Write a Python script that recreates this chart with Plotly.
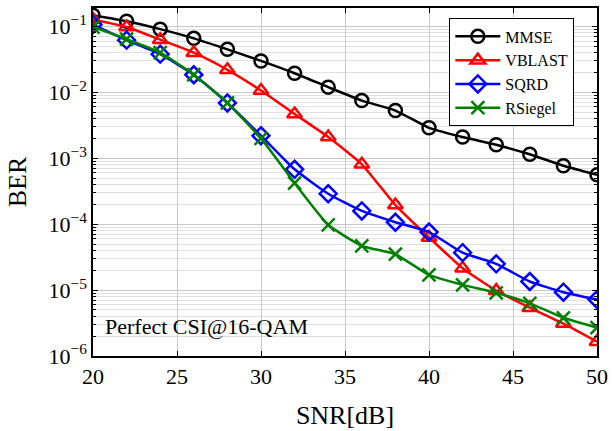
import numpy as np
import plotly.graph_objects as go

snr = [20, 22, 24, 26, 28, 30, 32, 34, 36, 38, 40, 42, 44, 46, 48, 50]

mmse = [0.148, 0.12, 0.091, 0.066, 0.045, 0.030, 0.0195, 0.012, 0.0075, 0.0053,
        0.0029, 0.0021, 0.0016, 0.00115, 0.00077, 0.00056]
vblast = [0.128, 0.098, 0.063, 0.040, 0.022, 0.0107, 0.0047, 0.0021, 0.00081, 0.000195,
          6.3e-5, 2.15e-5, 9.8e-6, 5.4e-6, 3.1e-6, 1.65e-6]
sqrd = [0.107, 0.062, 0.038, 0.0185, 0.0069, 0.0022, 0.00068, 0.00029, 0.000159, 0.000107,
        7.6e-5, 3.7e-5, 2.5e-5, 1.35e-5, 9.3e-6, 7.2e-6]
rsiegel = [0.098, 0.064, 0.040, 0.0185, 0.0069, 0.0020, 0.00042, 9.8e-5, 4.7e-5, 3.5e-5,
           1.7e-5, 1.2e-5, 9.1e-6, 6.3e-6, 3.8e-6, 2.7e-6]

series = [
    ("MMSE", mmse, "black", "circle-open"),
    ("VBLAST", vblast, "red", "triangle-up-open"),
    ("SQRD", sqrd, "blue", "diamond-open"),
    ("RSiegel", rsiegel, "green", "x-thin-open"),
]

font = "Liberation Serif, Times New Roman, serif"

fig = go.Figure()
for name, vals, col, sym in series:
    fig.add_trace(go.Scatter(
        x=snr, y=vals, name=name, mode="lines+markers",
        line=dict(color=col, width=2.5, shape="spline", smoothing=0.5),
        marker=dict(symbol=sym, size=13, color=col, line=dict(width=2.5, color=col)),
    ))

major = [1e-6, 1e-5, 1e-4, 1e-3, 1e-2, 1e-1]
major_txt = ["10<sup>\u22126</sup>", "10<sup>\u22125</sup>", "10<sup>\u22124</sup>",
             "10<sup>\u22123</sup>", "10<sup>\u22122</sup>", "10<sup>\u22121</sup>"]
minor = [m * 10.0 ** k for k in range(-6, 0) for m in range(2, 10)]

fig.update_layout(
    width=614, height=431,
    margin=dict(l=93, r=12, t=6, b=74),
    paper_bgcolor="white", plot_bgcolor="white",
    font=dict(family=font, size=22, color="black"),
    showlegend=True,
    legend=dict(x=0.707, y=0.97, xanchor="left", yanchor="top",
                bordercolor="black", borderwidth=1, bgcolor="white",
                font=dict(size=16), itemwidth=45, tracegroupgap=0),
    xaxis=dict(
        range=[20, 50], tickvals=[20, 25, 30, 35, 40, 45, 50],
        ticks="inside", ticklen=5, tickcolor="black", mirror="ticks",
        showline=True, linecolor="black", linewidth=1.5,
        showgrid=True, gridcolor="#c8c8c8", gridwidth=1,
        zeroline=False,
        title=dict(text="SNR[dB]", standoff=18),
    ),
    yaxis=dict(
        type="log", range=[-6, -0.72],
        tickvals=major, ticktext=major_txt,
        ticks="inside", ticklen=5, tickcolor="black", mirror="ticks",
        showline=True, linecolor="black", linewidth=1.5,
        showgrid=True, gridcolor="#c8c8c8", gridwidth=1,
        minor=dict(tickvals=minor, ticks="inside", ticklen=3, tickcolor="black",
                   showgrid=True, gridcolor="#e0e0e0", gridwidth=1),
        zeroline=False,
        title=dict(text="BER", standoff=14),
    ),
    annotations=[dict(
        text="Perfect CSI@16-QAM", x=20.6, y=-5.55, xref="x", yref="y",
        xanchor="left", yanchor="middle", showarrow=False,
        font=dict(family=font, size=22),
    )],
)

fig.write_html("out.html", config={"displayModeBar": False},
               post_script="document.body.style.margin='0';")
